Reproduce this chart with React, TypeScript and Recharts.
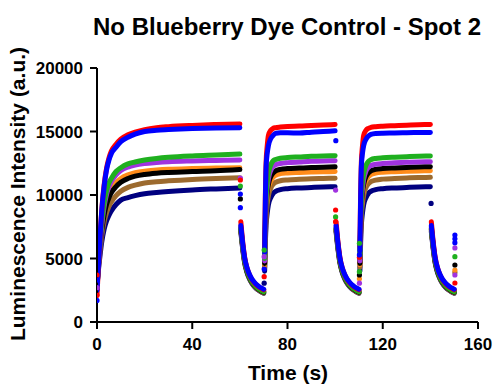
import React from 'react';
import { ComposedChart, Line, XAxis, YAxis } from 'recharts';

// Sampling times (s) of each phase: light-on rises and light-off decays
const T_RISE1 = [0, 0.5, 1, 1.5, 2, 3, 4, 5, 6, 8, 10, 13, 16, 20, 25, 30, 40, 50, 60];
const T_DECAY1 = [60.4, 61, 61.5, 62, 63, 64, 65, 66, 67, 68, 69, 70];
const T_RISE2 = [70.4, 70.7, 71, 71.5, 72, 73, 74, 75, 77, 80, 85, 90, 95, 100];
const T_DECAY2 = [100.4, 101, 101.5, 102, 103, 104, 105, 106, 107, 108, 109, 110];
const T_RISE3 = [110.4, 110.7, 111, 111.5, 112, 113, 114, 115, 117, 120, 125, 130, 135, 140];
const T_DECAY3 = [140.4, 141, 141.5, 142, 143, 144, 145, 146, 147, 148, 149, 150];

// Luminescence (a.u.) per well
const RED_RISE1 = [2100, 4000, 5800, 7400, 8800, 10800, 12100, 12900, 13450, 14000, 14400, 14750, 14950, 15150, 15300, 15380, 15480, 15550, 15600];
const RED_RISE2 = [5800, 10000, 12500, 13900, 14700, 15100, 15250, 15300, 15350, 15400, 15430, 15480, 15520, 15550];
const RED_RISE3 = [5900, 10100, 12500, 13900, 14700, 15100, 15250, 15320, 15380, 15420, 15460, 15500, 15530, 15560];
const RED_DECAY = [7900, 6650, 5800, 5100, 4250, 3720, 3350, 3100, 2900, 2750, 2630, 2530];

const BLUE_RISE1 = [2500, 4160, 5830, 7360, 8770, 10690, 11970, 12740, 13250, 13760, 14200, 14550, 14800, 15000, 15100, 15150, 15230, 15280, 15300];
const BLUE_RISE2 = [5500, 9500, 12200, 13300, 13900, 14450, 14700, 14850, 14900, 14900, 14880, 14950, 15000, 15050];
const BLUE_RISE3 = [5600, 9600, 12200, 13300, 13900, 14400, 14650, 14780, 14850, 14870, 14880, 14900, 14920, 14930];
const BLUE_DECAY = [7600, 6500, 5700, 5050, 4250, 3750, 3400, 3150, 2950, 2800, 2680, 2580];

const GREEN_RISE1 = [2800, 4200, 5600, 6900, 7900, 9400, 10350, 10950, 11300, 11850, 12150, 12450, 12600, 12750, 12880, 12970, 13080, 13150, 13220];
const GREEN_RISE2 = [5000, 8000, 9800, 11000, 11700, 12400, 12700, 12800, 12900, 12950, 13000, 13050, 13080, 13100];
const GREEN_RISE3 = [5100, 8000, 9800, 11000, 11700, 12350, 12650, 12780, 12880, 12930, 12980, 13020, 13050, 13070];
const GREEN_DECAY = [7400, 6300, 5500, 4850, 4050, 3550, 3200, 2950, 2750, 2600, 2480, 2380];

const PURPLE_RISE1 = [2700, 4100, 5400, 6600, 7600, 9100, 10050, 10650, 11050, 11580, 11920, 12200, 12360, 12480, 12560, 12620, 12680, 12720, 12750];
const PURPLE_RISE2 = [4800, 7700, 9400, 10600, 11300, 11950, 12250, 12380, 12480, 12550, 12600, 12650, 12680, 12700];
const PURPLE_RISE3 = [4800, 7700, 9400, 10550, 11250, 11900, 12180, 12320, 12420, 12480, 12530, 12570, 12600, 12620];
const PURPLE_DECAY = [7500, 6400, 5600, 4950, 4150, 3650, 3300, 3050, 2850, 2700, 2580, 2480];

const ORANGE_RISE1 = [3200, 4400, 5600, 6600, 7450, 8750, 9550, 10100, 10480, 10970, 11300, 11580, 11750, 11880, 11960, 12020, 12080, 12120, 12150];
const ORANGE_RISE2 = [4500, 7100, 8700, 9900, 10550, 11100, 11400, 11550, 11680, 11740, 11780, 11810, 11830, 11850];
const ORANGE_RISE3 = [4500, 7100, 8750, 9950, 10600, 11150, 11450, 11600, 11730, 11800, 11840, 11870, 11890, 11910];
const ORANGE_DECAY = [7350, 6300, 5500, 4850, 4050, 3550, 3200, 2950, 2750, 2600, 2490, 2400];

const BLACK_RISE1 = [3000, 4200, 5400, 6400, 7200, 8450, 9250, 9780, 10170, 10660, 11000, 11300, 11480, 11620, 11720, 11780, 11850, 11900, 12000];
const BLACK_RISE2 = [4600, 7300, 9000, 10200, 10850, 11450, 11750, 11900, 12020, 12080, 12120, 12160, 12190, 12220];
const BLACK_RISE3 = [4600, 7300, 9000, 10200, 10850, 11450, 11750, 11900, 12020, 12080, 12130, 12170, 12200, 12230];
const BLACK_DECAY = [7300, 6250, 5450, 4800, 4000, 3500, 3150, 2900, 2700, 2560, 2440, 2350];

const BROWN_RISE1 = [2900, 4000, 5100, 6000, 6800, 7900, 8600, 9100, 9450, 9950, 10300, 10600, 10780, 10950, 11050, 11120, 11230, 11300, 11350];
const BROWN_RISE2 = [4300, 6700, 8200, 9300, 9950, 10550, 10850, 11000, 11120, 11190, 11240, 11280, 11300, 11320];
const BROWN_RISE3 = [4300, 6700, 8250, 9350, 10000, 10600, 10900, 11050, 11170, 11250, 11300, 11340, 11370, 11390];
const BROWN_DECAY = [7200, 6150, 5350, 4700, 3950, 3450, 3100, 2850, 2650, 2500, 2380, 2280];

const NAVY_RISE1 = [3000, 3900, 4800, 5600, 6300, 7300, 7950, 8400, 8750, 9250, 9600, 9800, 9950, 10100, 10200, 10280, 10400, 10480, 10550];
const NAVY_RISE2 = [4000, 6200, 7600, 8600, 9250, 9800, 10130, 10280, 10420, 10500, 10560, 10600, 10630, 10650];
const NAVY_RISE3 = [4000, 6200, 7600, 8600, 9250, 9800, 10130, 10280, 10420, 10500, 10560, 10600, 10630, 10650];
const NAVY_DECAY = [7100, 6050, 5300, 4650, 3900, 3400, 3050, 2800, 2620, 2480, 2360, 2270];

// Isolated readings taken while the light switches on or off: [time, value]
const RED_SWITCH: [number, number][] = [[0, 2100], [0, 3700], [60.2, 11180], [70.2, 3570], [100.2, 8820], [100.2, 7900], [110.2, 5100], [150.3, 3070]];
const BLUE_SWITCH: [number, number][] = [[0, 1700], [0, 3300], [60.2, 10080], [60.2, 9000], [70.2, 4170], [100.3, 14280], [110.2, 5280], [150.3, 6850], [150.3, 6550], [150.3, 6250]];
const GREEN_SWITCH: [number, number][] = [[60.2, 10700], [70.2, 5670], [100.2, 8270], [110.2, 3960], [110.2, 6200], [150.3, 5140]];
const PURPLE_SWITCH: [number, number][] = [[0, 2700], [60.2, 11340], [70.2, 5140], [100.2, 10390], [110.2, 3060], [150.3, 5830], [150.3, 3700]];
const ORANGE_SWITCH: [number, number][] = [[110.2, 3400], [150.3, 4090]];
const BLACK_SWITCH: [number, number][] = [[60.2, 9690], [110.2, 3700], [150.3, 4490]];
const BROWN_SWITCH: [number, number][] = [[150.3, 3900]];
const NAVY_SWITCH: [number, number][] = [[70.2, 3060], [140.3, 9340]];

const X_TICKS = [0, 40, 80, 120, 160];
const Y_TICKS = [0, 5000, 10000, 15000, 20000];

type Pt = { t: number; v: number | null };

function phasesToPoints(phases: [number[], number[]][]): Pt[] {
  const out: Pt[] = [];
  phases.forEach(([ts, vs], i) => {
    if (i > 0) {
      const prev = out[out.length - 1].t;
      out.push({ t: (prev + ts[0]) / 2, v: null });
    }
    ts.forEach((t, j) => out.push({ t, v: vs[j] }));
  });
  return out;
}

function buildWell(rise: number[][], decay: number[]): Pt[] {
  return phasesToPoints([
    [T_RISE1, rise[0]],
    [T_DECAY1, decay],
    [T_RISE2, rise[1]],
    [T_DECAY2, decay],
    [T_RISE3, rise[2]],
    [T_DECAY3, decay],
  ]);
}

const toPts = (pairs: [number, number][]): Pt[] => pairs.map(([t, v]) => ({ t, v }));

// Drawing order: later wells sit on top
const WELLS = [
  { id: 'navy', color: '#000080', data: buildWell([NAVY_RISE1, NAVY_RISE2, NAVY_RISE3], NAVY_DECAY), sw: toPts(NAVY_SWITCH) },
  { id: 'brown', color: '#9c6a2e', data: buildWell([BROWN_RISE1, BROWN_RISE2, BROWN_RISE3], BROWN_DECAY), sw: toPts(BROWN_SWITCH) },
  { id: 'orange', color: '#ff8c1a', data: buildWell([ORANGE_RISE1, ORANGE_RISE2, ORANGE_RISE3], ORANGE_DECAY), sw: toPts(ORANGE_SWITCH) },
  { id: 'black', color: '#000000', data: buildWell([BLACK_RISE1, BLACK_RISE2, BLACK_RISE3], BLACK_DECAY), sw: toPts(BLACK_SWITCH) },
  { id: 'purple', color: '#a033e0', data: buildWell([PURPLE_RISE1, PURPLE_RISE2, PURPLE_RISE3], PURPLE_DECAY), sw: toPts(PURPLE_SWITCH) },
  { id: 'green', color: '#1fb01f', data: buildWell([GREEN_RISE1, GREEN_RISE2, GREEN_RISE3], GREEN_DECAY), sw: toPts(GREEN_SWITCH) },
  { id: 'red', color: '#ff0000', data: buildWell([RED_RISE1, RED_RISE2, RED_RISE3], RED_DECAY), sw: toPts(RED_SWITCH) },
  { id: 'blue', color: '#0000ff', data: buildWell([BLUE_RISE1, BLUE_RISE2, BLUE_RISE3], BLUE_DECAY), sw: toPts(BLUE_SWITCH) },
];

const FONT = '"Liberation Sans", Arial, Helvetica, sans-serif';
const tickStyle = { fontFamily: FONT, fontSize: 17, fontWeight: 700, fill: '#000' };

export default function App() {
  return (
    <div style={{ position: 'absolute', left: 0, top: 0, width: 496, height: 385, background: '#fff' }}>
      <ComposedChart width={496} height={385} margin={{ top: 68, right: 18, bottom: 0, left: 40 }}>
        <XAxis
          dataKey="t"
          type="number"
          domain={[0, 160]}
          ticks={X_TICKS}
          allowDataOverflow
          height={63}
          tickSize={7}
          tickMargin={9}
          tick={tickStyle}
          axisLine={{ stroke: '#000', strokeWidth: 2 }}
          tickLine={{ stroke: '#000', strokeWidth: 2 }}
        />
        <YAxis
          dataKey="v"
          type="number"
          domain={[0, 20000]}
          ticks={Y_TICKS}
          allowDataOverflow
          width={57}
          tickSize={7}
          tickMargin={7}
          tick={tickStyle}
          axisLine={{ stroke: '#000', strokeWidth: 2 }}
          tickLine={{ stroke: '#000', strokeWidth: 2 }}
        />
        {WELLS.map((w) => (
          <Line
            key={w.id + '-trace'}
            data={w.data}
            dataKey="v"
            type="monotone"
            stroke={w.color}
            strokeWidth={5}
            strokeLinecap="round"
            strokeLinejoin="round"
            dot={false}
            activeDot={false}
            connectNulls={false}
            isAnimationActive={false}
          />
        ))}
        {WELLS.map((w) => (
          <Line
            key={w.id + '-switch'}
            data={w.sw}
            dataKey="v"
            stroke="none"
            dot={{ r: 2.6, fill: w.color, stroke: 'none' }}
            activeDot={false}
            isAnimationActive={false}
          />
        ))}
      </ComposedChart>
      <svg width={496} height={385} style={{ position: 'absolute', left: 0, top: 0, pointerEvents: 'none' }}>
        <text x={287} y={35} textAnchor="middle" fontFamily={FONT} fontSize={24} fontWeight={700} fill="#000">
          No Blueberry Dye Control - Spot 2
        </text>
        <text x={288} y={380} textAnchor="middle" fontFamily={FONT} fontSize={21} fontWeight={700} fill="#000">
          Time (s)
        </text>
        <text
          x={25}
          y={194}
          textAnchor="middle"
          transform="rotate(-90 25 194)"
          fontFamily={FONT}
          fontSize={21}
          fontWeight={700}
          fill="#000"
        >
          Luminescence Intensity (a.u.)
        </text>
      </svg>
    </div>
  );
}
